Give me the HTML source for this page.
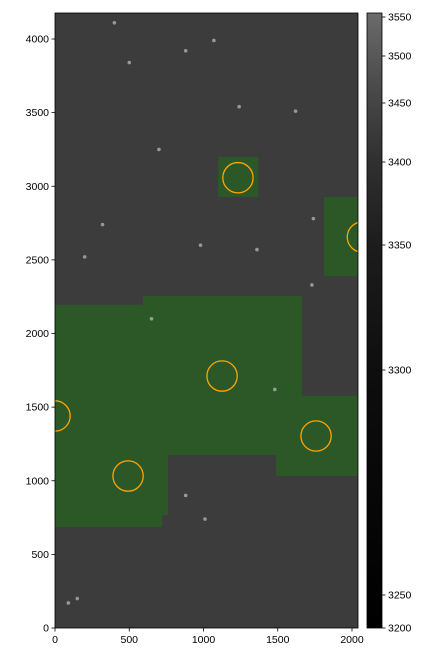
<!DOCTYPE html>
<html><head><meta charset="utf-8"><style>
body{margin:0;background:#fff;}
svg text{font-family:"Liberation Sans","DejaVu Sans",sans-serif;font-size:10.5px;fill:#000;}
</style></head><body>
<svg id="chart" width="437" height="663" viewBox="0 0 437 663" xmlns="http://www.w3.org/2000/svg">
<defs>
<clipPath id="axclip"><rect x="55" y="13" width="303" height="615"/></clipPath>
<linearGradient id="cbgrad" x1="0" y1="1" x2="0" y2="0">
<stop offset="0" stop-color="#000"/>
<stop offset="0.4" stop-color="#0d0d0d"/>
<stop offset="0.62" stop-color="#1c1c1c"/>
<stop offset="0.76" stop-color="#303030"/>
<stop offset="0.87" stop-color="#484848"/>
<stop offset="1" stop-color="#6b6b6b"/>
</linearGradient>
</defs>
<g id="plot" clip-path="url(#axclip)"></g>
<rect x="55" y="13" width="303" height="615" fill="none" stroke="#000" stroke-width="0.8"/>
<g id="axes"></g>
<rect x="367" y="13" width="15" height="615" fill="url(#cbgrad)" stroke="#000" stroke-width="0.8"/>
<g id="cbar"></g>
</svg>
<script>
const xTicks=[0,500,1000,1500,2000];
const yTicks=[0,500,1000,1500,2000,2500,3000,3500,4000];
const cbTickVals=[3200,3250,3300,3350,3400,3450,3500,3550];
const cbTickPos=[628,595,370,245,162,103,56,17];
const regionMain=[[0,686],[0,2194],[593,2194],[593,2255],[1663,2255],[1663,1576],[2048,1576],[2048,1032],[1488,1032],[1488,1175],[761,1175],[761,767],[721,767],[721,686]];
const regionTop=[[1098,2927],[1098,3199],[1367,3199],[1367,2927]];
const regionRight=[[1811,2390],[1811,2927],[2048,2927],[2048,2390]];
const circX=[1232,1125,1758,492,0,2070];
const circY=[3058,1711,1304,1032,1440,2655];
const circR=[102,102,102,102,102,102];
const starX=[700,880,1070,500,320,1360,1730,650,1620,200,150,1240,1010,980,880,1740,1480,90,400];
const starY=[3250,3920,3990,3840,2740,2570,2330,2100,3510,2520,200,3540,740,2600,900,2780,1620,170,4110];
const sx=v=>55+v*0.1485, sy=v=>628-v*0.14725;
const NS="http://www.w3.org/2000/svg";
const plot=document.getElementById('plot');
function mk(tag,attrs,parent){const e=document.createElementNS(NS,tag);for(const k in attrs)e.setAttribute(k,attrs[k]);parent.appendChild(e);return e;}
let bg=mk('rect',{x:55,y:13,width:303,height:615,fill:'#3c3c3c'},plot);


[[regionMain,'coverage-region-main'],[regionTop,'coverage-region-top'],[regionRight,'coverage-region-right']].forEach(([pts,n])=>{
const p=mk('polygon',{points:pts.map(q=>sx(q[0])+','+sy(q[1])).join(' '),fill:'#2c5828'},plot);

});
starX.forEach((x,i)=>{const s=mk('circle',{cx:sx(x),cy:sy(starY[i]),r:1.8,fill:'#bdbdbd',opacity:0.7},plot);

});
circX.forEach((x,i)=>{const c=mk('circle',{cx:sx(x),cy:sy(circY[i]),r:circR[i]*0.1485,fill:'none',stroke:'#ffa500','stroke-width':1.3},plot);

});
const axes=document.getElementById('axes');
xTicks.forEach(t=>{mk('line',{x1:sx(t),x2:sx(t),y1:628,y2:631.5,stroke:'#000','stroke-width':0.8},axes);
const l=mk('text',{x:sx(t),y:643,'text-anchor':'middle'},axes);l.textContent=t;

});
yTicks.forEach(t=>{mk('line',{x1:51.5,x2:55,y1:sy(t),y2:sy(t),stroke:'#000','stroke-width':0.8},axes);
const l=mk('text',{x:49,y:sy(t)+3.5,'text-anchor':'end'},axes);l.textContent=t;

});
const cb=document.getElementById('cbar');
cbTickVals.forEach((v,i)=>{mk('line',{x1:382,x2:385.5,y1:cbTickPos[i],y2:cbTickPos[i],stroke:'#000','stroke-width':0.8},cb);
const l=mk('text',{x:388,y:cbTickPos[i]+3.5},cb);l.textContent=v;

});
</script>
</body></html>
